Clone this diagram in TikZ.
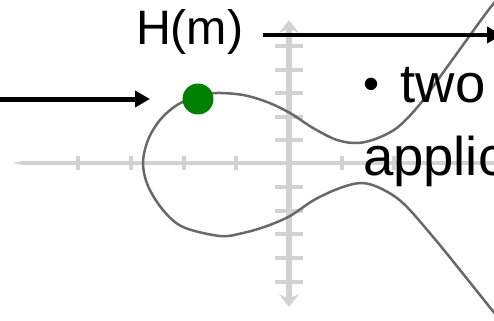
\documentclass[tikz,border=0pt]{standalone}
\usepackage{fontspec}
\setmainfont{Liberation Sans}
\usetikzlibrary{arrows.meta,positioning}
\definecolor{dotgreen}{RGB}{0,128,0}
\definecolor{axisgray}{RGB}{210,210,210}
\definecolor{curvegray}{RGB}{105,105,105}

\begin{document}
\begin{tikzpicture}[
        x=0.02cm, y=-0.02cm,
        arr/.style={line width=0.1cm, -{Triangle[length=0.3cm, width=0.32cm]}},
        haxis/.style={draw=axisgray, line width=0.08cm},
        vaxis/.style={draw=axisgray, line width=0.12cm},
        tick/.style={draw=axisgray, line width=0.07cm},
        curve/.style={draw=curvegray, line width=0.05cm},
        every node/.style={inner sep=0pt, outer sep=0pt}
    ]
        \useasboundingbox (0,0) rectangle (494,321);
        \clip (0,0) rectangle (494,321);

        \draw[haxis, {Stealth[length=0.56cm, width=0.24cm, inset=0.3cm]}-] (13,163) -- (510,163);
        \draw[vaxis, {Stealth[length=0.26cm, width=0.4cm, inset=0.1cm]}-{Stealth[length=0.26cm, width=0.4cm, inset=0.1cm]}] (289,307) -- (289,20);
        \foreach \ty in {46,70,93,117,140,187,211,234,258,282}
            \draw[tick] (275,\ty) -- (303,\ty);
        \foreach \tx in {78,131,184,236,342,394,447}
            \draw[tick] (\tx,156) -- (\tx,170);

        \draw[curve] plot[smooth, tension=0.55] coordinates {
            (505,-8) (490,8) (450,63) (420,104) (398,127) (378,138) (358,143)
            (337,140) (313,128) (290,113) (267,102) (243,95) (217,93) (198,96)
            (177,105) (160,120) (148,140) (143,163) (148,186) (163,210) (183,227)
            (220,236) (243,233) (267,226) (290,216) (314,200) (340,188) (362,183)
            (382,189) (404,204) (434,238) (464,275) (492,310) (502,322)};

        \node[circle, fill=dotgreen, minimum size=0.62cm] (dot) at (198,99) {};
        \node[anchor=base west, font=\fontsize{27.5}{33}\selectfont] (hm) at (136,45) {H(m)};
        \node[anchor=base west, font=\fontsize{31}{37}\selectfont] (two) at (363,102) {{\fontsize{26}{30}\selectfont\raisebox{0.06em}{\textbullet}}\hspace{0.4em}two};
        \node[anchor=base west, font=\fontsize{31}{37}\selectfont] (applic) at (363,175) {applic};

        \coordinate (lin) at (-10,99);
        \coordinate (hout) at (502,35);
        \draw[arr, shorten >=0.65cm] (lin) -- (dot.west);
        \draw[arr, shorten <=0.4cm] (hm.east |- hout) -- (hout);
    \end{tikzpicture}
\end{document}
